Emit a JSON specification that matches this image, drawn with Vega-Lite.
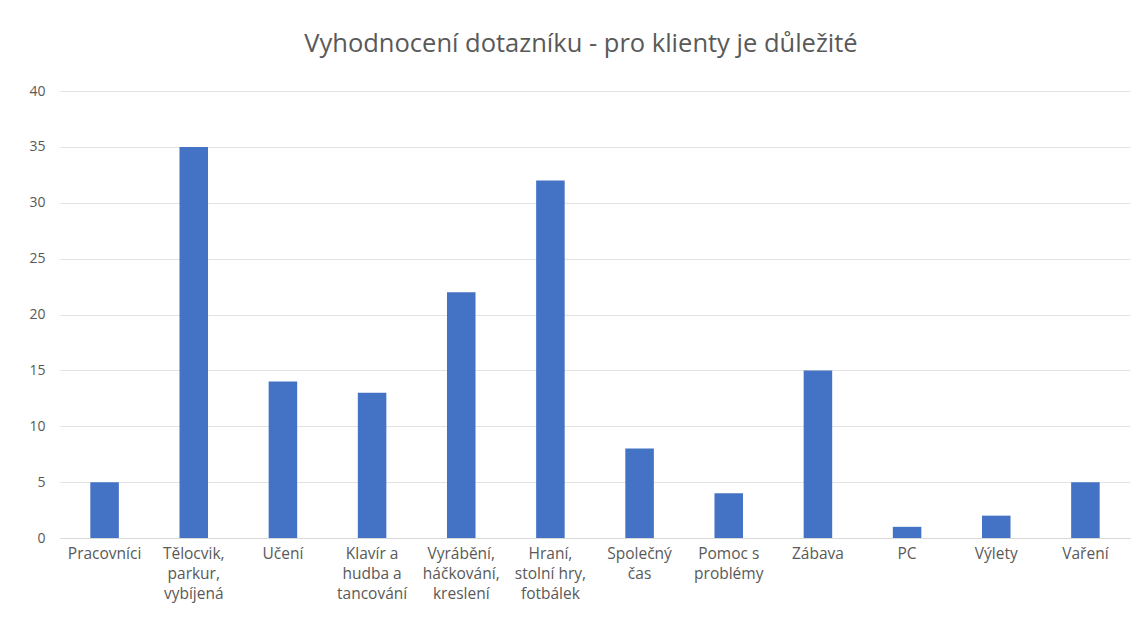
{
  "$schema": "https://vega.github.io/schema/vega-lite/v6.json",
  "width": 1070,
  "height": 447,
  "autosize": "none",
  "padding": {"left": 60, "top": 91, "right": 15, "bottom": 90},
  "background": "white",
  "title": {
    "text": "Vyhodnocení dotazníku - pro klienty je důležité",
    "font": "Open Sans",
    "fontSize": 25.5,
    "fontWeight": "normal",
    "color": "#595959",
    "anchor": "middle",
    "offset": 27,
    "dx": -14
  },
  "data": {
    "values": [
      {"kategorie": "Pracovníci", "pocet": 5},
      {"kategorie": "Tělocvik,|parkur,|vybíjená", "pocet": 35},
      {"kategorie": "Učení", "pocet": 14},
      {"kategorie": "Klavír a|hudba a|tancování", "pocet": 13},
      {"kategorie": "Vyrábění,|háčkování,|kreslení", "pocet": 22},
      {"kategorie": "Hraní,|stolní hry,|fotbálek", "pocet": 32},
      {"kategorie": "Společný|čas", "pocet": 8},
      {"kategorie": "Pomoc s|problémy", "pocet": 4},
      {"kategorie": "Zábava", "pocet": 15},
      {"kategorie": "PC", "pocet": 1},
      {"kategorie": "Výlety", "pocet": 2},
      {"kategorie": "Vaření", "pocet": 5}
    ]
  },
  "mark": {"type": "bar", "color": "#4472C4"},
  "encoding": {
    "x": {
      "field": "kategorie",
      "type": "nominal",
      "sort": null,
      "scale": {"paddingInner": 0.68, "paddingOuter": 0.34},
      "axis": {
        "title": null,
        "labelAngle": 0,
        "labelExpr": "split(datum.label, '|')",
        "labelFont": "Open Sans",
        "labelFontSize": 15.5,
        "labelColor": "#595959",
        "labelLineHeight": 20,
        "labelPadding": 8,
        "ticks": false,
        "domainColor": "#d9d9d9",
        "labelLimit": 200
      }
    },
    "y": {
      "field": "pocet",
      "type": "quantitative",
      "scale": {"domain": [0, 40]},
      "axis": {
        "title": null,
        "values": [0, 5, 10, 15, 20, 25, 30, 35, 40],
        "labelFont": "Open Sans",
        "labelFontSize": 14,
        "labelColor": "#595959",
        "labelPadding": 15,
        "ticks": false,
        "domain": false,
        "gridColor": "#e3e3e3"
      }
    }
  },
  "config": {"view": {"stroke": null}}
}
